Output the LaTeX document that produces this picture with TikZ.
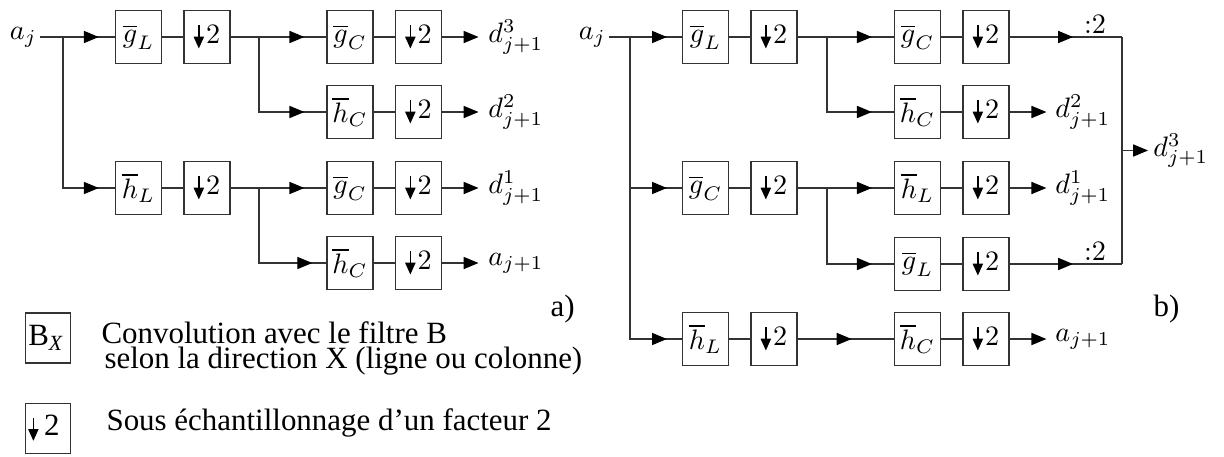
\documentclass[tikz,border=0pt]{standalone}
\usepackage{amsmath,amssymb}
\usepackage{fontspec}
\newfontfamily\legendfont{Liberation Serif}
\usetikzlibrary{arrows.meta,decorations.markings}

\newcommand{\legsize}{\legendfont\fontsize{11pt}{13pt}\selectfont}
\newcommand{\dsamp}[1][0.8pt]{\tikz[baseline=0pt]\draw[line width=0.6pt,-{Triangle[length=4.2pt,width=3.6pt]}] (0pt,6.4pt) -- (0pt,-1.8pt);\kern#1 2}

\tikzset{
  wire/.style={draw=black!80, line width=0.45pt},
  filt/.style={draw=black!80, line width=0.45pt, minimum width=16.4pt, minimum height=18.9pt, inner sep=0pt},
  legbox/.style={draw=black!80, line width=0.45pt, minimum height=17.8pt, text width=14pt, inner xsep=1pt, inner ysep=0pt, align=left, font=\legsize},
  legtext/.style={anchor=base west, inner sep=0pt, font=\legsize},
  midarr/.style={postaction={decorate}, decoration={markings, mark=at position #1 with {\arrow{Triangle[length=5.3pt,width=4.3pt,color=black]}}}},
  outarr/.style={-{Triangle[length=5.3pt,width=4.3pt,color=black]}, shorten >=#1},
  lab/.style={anchor=west, inner sep=1pt},
}

\begin{document}
\begin{tikzpicture}[x=0.0125cm, y=-0.0125cm]
    \useasboundingbox (0,0) rectangle (1224,456);

    % a) filters and down-samplers
    \foreach \n/\x/\y/\lab in {1/138.5/37/\overline{g}_L, 2/138.5/188/\overline{h}_L,
                               3/350/37/\overline{g}_C, 4/350/112/\overline{h}_C,
                               5/350/188/\overline{g}_C, 6/350/263/\overline{h}_C} {
        \node[filt] (af\n)  at (\x,\y)      {$\lab$};
        \node[filt] (ads\n) at (\x+68.5,\y) {\dsamp};
        \draw[wire] (af\n) -- (ads\n);
    }

    \node[anchor=east, inner sep=1pt] (aaj) at (40,37) {$a_j$};
    \coordinate (aj1) at (63,37);     % first split
    \coordinate (aj2) at (259,37);    % split after g_L
    \coordinate (aj3) at (259,188);   % split after h_L

    \draw[wire] (aaj) -- (aj1);
    \draw[wire, midarr=-5.7pt] (aj1) -- (af1);
    \draw[wire, midarr=-5.7pt] (aj1) |- (af2);
    \draw[wire] (ads1) -- (aj2);
    \draw[wire, midarr=-7.8pt] (aj2) -- (af3);
    \draw[wire, midarr=-7.8pt] (aj2) |- (af4);
    \draw[wire] (ads2) -- (aj3);
    \draw[wire, midarr=-7.8pt] (aj3) -- (af5);
    \draw[wire, midarr=-5pt]   (aj3) |- (af6);

    % a) outputs
    \foreach \n/\y/\lab in {3/37/d^3_{j+1}, 4/112/d^2_{j+1}, 5/188/d^1_{j+1}, 6/263/a_{j+1}} {
        \node[lab] (ao\n) at (485,\y) {$\lab$};
        \draw[wire, outarr=2.3pt] (ads\n) -- (ao\n);
    }

    % b) filters and down-samplers
    \foreach \n/\x/\y/\lab in {1/705.5/37/\overline{g}_L, 2/705.5/188/\overline{g}_C,
                               3/705.5/339/\overline{h}_L, 4/917.5/37/\overline{g}_C,
                               5/917.5/112/\overline{h}_C, 6/917.5/188/\overline{h}_L,
                               7/917.5/264/\overline{g}_L, 8/917.5/339/\overline{h}_C} {
        \node[filt] (bf\n)  at (\x,\y)      {$\lab$};
        \node[filt] (bds\n) at (\x+68.5,\y) {\dsamp};
        \draw[wire] (bf\n) -- (bds\n);
    }

    \node[anchor=east, inner sep=1pt] (baj) at (609,37) {$a_j$};
    \coordinate (bj1) at (630,37);
    \coordinate (bj2) at (827,37);
    \coordinate (bj3) at (827,188);

    \draw[wire] (baj) -- (bj1);
    \draw[wire, midarr=-5.3pt] (bj1) -- (bf1);
    \draw[wire, midarr=-5.3pt] (bj1) |- (bf2);
    \draw[wire, midarr=-5.3pt] (bj1) |- (bf3);
    \draw[wire] (bds1) -- (bj2);
    \draw[wire, midarr=-7.8pt] (bj2) -- (bf4);
    \draw[wire, midarr=-7.8pt] (bj2) |- (bf5);
    \draw[wire] (bds2) -- (bj3);
    \draw[wire, midarr=-7.8pt] (bj3) -- (bf6);
    \draw[wire, midarr=-7.8pt] (bj3) |- (bf7);
    \draw[wire, midarr=-15pt]  (bds3) -- (bf8);

    % b) outputs
    \foreach \n/\y/\lab in {5/112/d^2_{j+1}, 6/188/d^1_{j+1}, 8/339/a_{j+1}} {
        \node[lab] (bo\n) at (1052,\y) {$\lab$};
        \draw[wire, outarr=2pt] (bds\n) -- (bo\n);
    }

    % b) the two :2 branches merged into d^3
    \coordinate (bm1) at (1122,37);
    \coordinate (bm2) at (1122,264);
    \coordinate (bm)  at (1122,150.5);
    \draw[wire, midarr=-17.4pt] (bds4) -- (bm1);
    \draw[wire, midarr=-17.4pt] (bds7) -- (bm2);
    \draw[wire] (bm1) -- (bm2);
    \node[anchor=south, inner sep=1pt] (bq1) at (1095,37)  {:2};
    \node[anchor=south, inner sep=1pt] (bq2) at (1095,264) {:2};
    \node[lab] (bo3) at (1150,150.5) {$d^3_{j+1}$};
    \draw[wire, outarr=0.7pt] (bm) -- (bo3);

    % panel tags
    \node[legtext] (pa) at (550,316)  {a)};
    \node[legtext] (pb) at (1153,316) {b)};

    % legend
    \node[legbox] (kb) at (48,338)   {B\textsubscript{\textit{X}}};
    \node[legbox] (kd) at (48,428.5) {\dsamp[2pt]};
    \node[legtext] (kt1) at (101,343) {Convolution avec le filtre B};
    \node[legtext] (kt2) at (104,368) {selon la direction X (ligne ou colonne)};
    \node[legtext] (kt3) at (106,430) {Sous échantillonnage d’un facteur 2};

\end{tikzpicture}
\end{document}
